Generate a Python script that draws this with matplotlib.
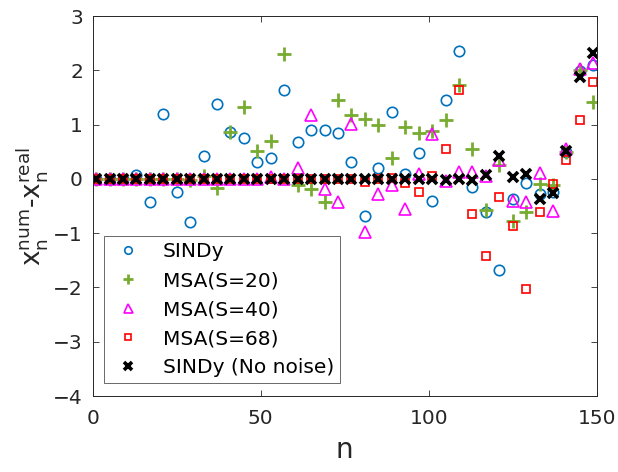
import matplotlib
matplotlib.use("Agg")
import matplotlib.pyplot as plt
import numpy as np

plt.rcParams['font.family'] = ['DejaVu Sans']
plt.rcParams['mathtext.fontset'] = 'dejavusans'

n = list(range(1, 150, 4))

sindy = [0, 0, 0, 0.08, -0.43, 1.20, -0.24, -0.80, 0.42, 1.37, 0.86, 0.75, 0.31,
         0.38, 1.64, 0.67, 0.90, 0.90, 0.84, 0.31, -0.69, 0.20, 1.23, 0.09, 0.47,
         -0.41, 1.45, 2.36, -0.15, -0.61, -1.68, -0.37, -0.08, -0.28, -0.24, 0.50,
         1.99, 2.10]
msa20 = [0, 0, 0, 0, 0, 0, 0, -0.03, 0.06, -0.17, 0.86, 1.32, 0.52,
         0.70, 2.30, -0.12, -0.18, -0.43, 1.45, 1.17, 1.10, 1.00, 0.38, 0.95, 0.85,
         0.88, 1.09, 1.73, 0.55, -0.58, 0.25, -0.77, -0.61, -0.09, -0.12, 0.50,
         2.00, 1.42]
msa40 = [0, 0, 0, 0, 0, 0, 0, 0, 0, 0, 0, 0, 0,
         0.03, 0.0, 0.20, 1.17, -0.18, -0.43, 1.01, -0.97, -0.27, -0.12, -0.55, 0.09,
         0.83, -0.04, 0.12, 0.12, 0.05, 0.35, -0.40, -0.43, 0.11, -0.60, 0.55,
         2.02, 2.14]
msa68 = [0, 0, 0, 0, 0, 0, 0, 0, 0, 0, 0, 0, 0,
         0, 0, 0, 0, 0, 0, 0, -0.06, 0, 0.02, -0.08, -0.25,
         0.05, 0.55, 1.63, -0.65, -1.43, -0.34, -0.86, -2.03, -0.61, -0.09, 0.35,
         1.09, 1.78]
sindy_nn = [0, 0, 0, 0, 0, 0, 0, 0, 0, 0, 0, 0, 0,
            0, 0, 0, 0, 0, 0, 0, 0, 0, 0, 0, 0,
            0, -0.03, 0.0, -0.03, 0.08, 0.42, 0.03, 0.09, -0.37, -0.26, 0.51,
            1.87, 2.32]

labels = ['SINDy', 'MSA(S=20)', 'MSA(S=40)', 'MSA(S=68)', 'SINDy (No noise)']
xticks = [0, 50, 100, 150]
yticks = [-4, -3, -2, -1, 0, 1, 2, 3]

fig = plt.figure(figsize=(6.18, 4.72), dpi=100)
ax = fig.add_axes([92.7/618, 1-396/472, (596.7-92.7)/618, (396-16)/472])

ax.plot(n, sindy, 'o', ls='none', mfc='none', mec='#0072BD', ms=7.5, mew=1.2, label=labels[0])
ax.plot(n, msa20, '+', ls='none', color='#77AC30', ms=10, mew=2.0, label=labels[1])
ax.plot(n, msa40, '^', ls='none', mfc='none', mec='#FF00FF', ms=9, mew=1.2, label=labels[2])
ax.plot(n, msa68, 's', ls='none', mfc='none', mec='#FF0000', ms=5.5, mew=1.2, label=labels[3])
ax.plot(n, sindy_nn, 'x', ls='none', color='black', ms=7.5, mew=2.6, label=labels[4])

ax.set_xlim(0, 150)
ax.set_ylim(-4, 3)
ax.set_xticks(xticks)
ax.set_yticks(yticks)
ax.tick_params(direction='in', top=True, right=True, length=4, width=0.6,
               colors='#262626', labelsize=14.5, labelcolor='#262626')
ax.tick_params(axis='x', pad=9)
ax.tick_params(axis='y', pad=7)
for s in ax.spines.values():
    s.set_color('#262626')
    s.set_linewidth(0.7)

ax.set_xlabel('n', fontsize=20, color='#262626', labelpad=6)
ax.set_ylabel(r'$\mathrm{x_n^{num}}$-$\mathrm{x_n^{real}}$', fontsize=19, color='#262626', labelpad=2)

leg = ax.legend(loc='lower left', bbox_to_anchor=((104.3-92.7)/504, (396-383.3)/380),
                fontsize=14.5, markerscale=0.72, frameon=True, fancybox=False,
                borderpad=0.3, labelspacing=0.5, handletextpad=0.8, handlelength=1.8,
                borderaxespad=0)
leg.get_frame().set_edgecolor('#262626')
leg.get_frame().set_linewidth(0.6)
for t in leg.get_texts():
    t.set_color('black')

fig.savefig('out.png', dpi=100)
